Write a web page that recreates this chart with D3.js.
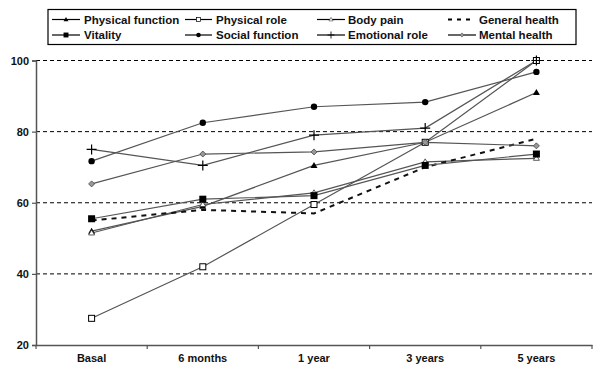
<!DOCTYPE html>
<html><head><meta charset="utf-8">
<script src="https://cdn.jsdelivr.net/npm/d3@7"></script>
<style>
body{margin:0;background:#fff;}
text{font-family:"Liberation Sans",Arial,sans-serif;}
</style></head>
<body><svg id="c" width="600" height="377"></svg>
<script>
const categories = ["Basal","6 months","1 year","3 years","5 years"];
const yTicks = [20,40,60,80,100];
const physicalFunction = [52, 59, 70.5, 77, 91];
const physicalRole = [27.5, 42, 59.5, 77, 100];
const bodyPain = [51.5, 59.5, 62.8, 71.5, 72.5];
const generalHealth = [55, 58, 57, 70, 78];
const vitality = [55.5, 61, 62, 70.5, 73.7];
const socialFunction = [71.7, 82.5, 87, 88.3, 96.8];
const emotionalRole = [75, 70.5, 79, 81, 100];
const mentalHealth = [65.3, 73.7, 74.3, 77, 76];

const series = [
  {name:"Physical function", values:physicalFunction, marker:"triFilled"},
  {name:"Physical role", values:physicalRole, marker:"sqOpen"},
  {name:"Body pain", values:bodyPain, marker:"triOpen"},
  {name:"General health", values:generalHealth, marker:"none", dashed:true},
  {name:"Vitality", values:vitality, marker:"sqFilled"},
  {name:"Social function", values:socialFunction, marker:"circle"},
  {name:"Emotional role", values:emotionalRole, marker:"plus"},
  {name:"Mental health", values:mentalHealth, marker:"diamond"}
];

const svg = d3.select("#c");
const x = d3.scaleBand().domain(categories).range([36, 592]);
const y = d3.scaleLinear().domain([20,100]).range([345, 60.5]);
const cx = c => x(c) + x.bandwidth()/2;

// gridlines
svg.append("g").selectAll("line").data(yTicks.filter(t=>t>20)).join("line")
  .attr("x1",36).attr("x2",592).attr("y1",d=>y(d)).attr("y2",d=>y(d))
  .attr("stroke","#000").attr("stroke-width",1).attr("stroke-dasharray","4,3");

// y axis
const ya = svg.append("g").attr("transform","translate(36,0)")
  .call(d3.axisLeft(y).tickValues(yTicks).tickSize(4).tickPadding(3));
ya.select(".domain").attr("stroke","#555").attr("stroke-width",1.5);
ya.selectAll(".tick line").attr("stroke","#555").attr("stroke-width",1.2);
ya.selectAll("text").attr("font-size",11).attr("font-weight","bold").attr("fill","#111");

// x axis
const xa = svg.append("g").attr("transform","translate(0,345)")
  .call(d3.axisBottom(x).tickSize(0).tickPadding(9));
xa.select(".domain").attr("stroke","#555").attr("stroke-width",1.5);
xa.selectAll("text").attr("font-size",11).attr("font-weight","bold").attr("fill","#111");
const bounds = categories.map(c=>x(c)).concat([x.range()[1]]);
svg.append("g").selectAll("line").data(bounds).join("line")
  .attr("x1",d=>d).attr("x2",d=>d).attr("y1",345).attr("y2",349)
  .attr("stroke","#555").attr("stroke-width",1.2);

function drawMarker(g, type, px, py){
  if(type==="triFilled"){
    g.append("path").attr("d",`M${px},${py-3.5}L${px+3.5},${py+2.5}L${px-3.5},${py+2.5}Z`).attr("fill","#000");
  } else if(type==="triOpen"){
    g.append("path").attr("d",`M${px},${py-3}L${px+3},${py+2}L${px-3},${py+2}Z`).attr("fill","#fff").attr("stroke","#333").attr("stroke-width",0.8);
  } else if(type==="sqOpen"){
    g.append("rect").attr("x",px-3).attr("y",py-3).attr("width",6).attr("height",6).attr("fill","#fff").attr("stroke","#000").attr("stroke-width",1);
  } else if(type==="sqFilled"){
    g.append("rect").attr("x",px-3.5).attr("y",py-3.5).attr("width",7).attr("height",7).attr("fill","#000");
  } else if(type==="circle"){
    g.append("circle").attr("cx",px).attr("cy",py).attr("r",3.2).attr("fill","#000");
  } else if(type==="plus"){
    g.append("path").attr("d",`M${px-5},${py}H${px+5}M${px},${py-5}V${py+5}`).attr("stroke","#000").attr("stroke-width",1.2);
  } else if(type==="diamond"){
    g.append("path").attr("d",`M${px},${py-3}L${px+3},${py}L${px},${py+3}L${px-3},${py}Z`).attr("fill","#999").attr("stroke","#444").attr("stroke-width",0.8);
  }
}

const line = d3.line().x((d,i)=>cx(categories[i])).y(d=>y(d));
series.forEach(s=>{
  const g = svg.append("g");
  g.append("path").datum(s.values).attr("d",line).attr("fill","none")
    .attr("stroke", s.dashed ? "#111" : "#555")
    .attr("stroke-width", s.dashed ? 2 : 1.2)
    .attr("stroke-dasharray", s.dashed ? "5,5" : null);
});
series.forEach(s=>{
  const g = svg.append("g");
  s.values.forEach((v,i)=>drawMarker(g, s.marker, cx(categories[i]), y(v)));
});

// legend
const lg = svg.append("g");
lg.append("rect").attr("x",48).attr("y",9.5).attr("width",528).attr("height",35)
  .attr("fill","#fff").attr("stroke","#000").attr("stroke-width",1.2);
const colX = [[52,80,84],[185,212,216],[317,345,348],[448,476,479]];
const rowY = [19.5, 35];
series.forEach((s,k)=>{
  const col = k%4, row = Math.floor(k/4);
  const [x1,x2,tx] = colX[col];
  const ly = rowY[row];
  if(s.dashed){
    lg.append("line").attr("x1",x1).attr("x2",x2-4).attr("y1",ly).attr("y2",ly)
      .attr("stroke","#000").attr("stroke-width",2).attr("stroke-dasharray","4,5");
  } else {
    lg.append("line").attr("x1",x1).attr("x2",x2).attr("y1",ly).attr("y2",ly)
      .attr("stroke","#000").attr("stroke-width",1.2);
    const mg = lg.append("g").attr("transform",`translate(${(x1+x2)/2},${ly}) scale(0.7)`);
    drawMarker(mg, s.marker, 0, 0);
  }
  lg.append("text").attr("x",tx).attr("y",ly).attr("dy","0.35em")
    .attr("font-size",11.5).attr("font-weight","bold").attr("fill","#111").text(s.name);
});
</script></body></html>
